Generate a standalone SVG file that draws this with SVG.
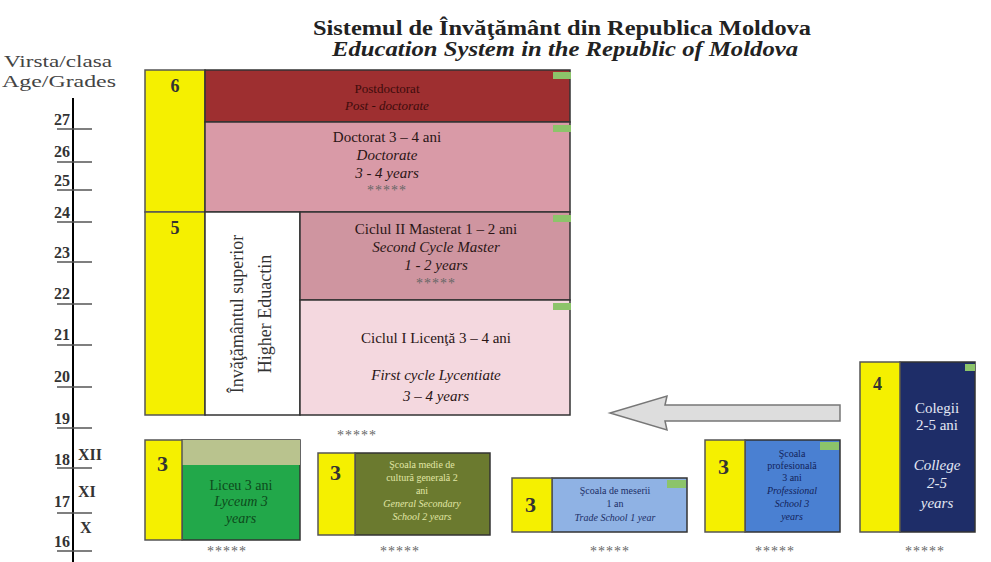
<svg xmlns="http://www.w3.org/2000/svg" width="991" height="562" viewBox="0 0 991 562">
<style>
text{font-family:"Liberation Serif","Times New Roman",serif;}
.t{font-weight:bold;font-size:20px;fill:#222;text-anchor:middle}
.ax{font-size:17px;fill:#444}
.num{font-weight:bold;font-size:16px;fill:#333;text-anchor:end}
.rom{font-weight:bold;font-size:16px;fill:#333}
.yel{fill:#f5f000;stroke:#555;stroke-width:1.5}
.box{stroke:#333;stroke-width:1.5}
.lvl{font-size:18px;fill:#333;text-anchor:middle;font-weight:bold}
.c{text-anchor:middle}
.i{font-style:italic}
.star{font-size:14px;fill:#666;text-anchor:middle;letter-spacing:1px}
.tab{fill:#8cc46a}
</style>
<rect width="991" height="562" fill="#fff"/>
<g id="title">
<text class="t" x="562" y="35" textLength="498" lengthAdjust="spacingAndGlyphs">Sistemul de Învăţământ din Republica Moldova</text>
<text class="t" x="565" y="56" font-style="italic" textLength="466" lengthAdjust="spacingAndGlyphs">Education System in the Republic of Moldova</text>
</g>
<g id="axis">
<text class="ax" x="4" y="67" textLength="108" lengthAdjust="spacingAndGlyphs">Virsta/clasa</text>
<text class="ax" x="2" y="87" textLength="114" lengthAdjust="spacingAndGlyphs">Age/Grades</text>
<line x1="73" y1="98" x2="73" y2="562" stroke="#000" stroke-width="2"/>
<g stroke="#555" stroke-width="1.5">
<line x1="57" y1="129" x2="92" y2="129"/>
<line x1="57" y1="162" x2="92" y2="162"/>
<line x1="57" y1="190" x2="92" y2="190"/>
<line x1="57" y1="222" x2="92" y2="222"/>
<line x1="57" y1="262" x2="92" y2="262"/>
<line x1="57" y1="304" x2="92" y2="304"/>
<line x1="57" y1="345" x2="92" y2="345"/>
<line x1="57" y1="387" x2="92" y2="387"/>
<line x1="57" y1="428" x2="92" y2="428"/>
<line x1="57" y1="468" x2="92" y2="468"/>
<line x1="57" y1="513" x2="92" y2="513"/>
<line x1="57" y1="551" x2="92" y2="551"/>
</g>
<text class="num" x="70" y="125">27</text>
<text class="num" x="70" y="157">26</text>
<text class="num" x="70" y="186">25</text>
<text class="num" x="70" y="218">24</text>
<text class="num" x="70" y="258">23</text>
<text class="num" x="70" y="299">22</text>
<text class="num" x="70" y="340">21</text>
<text class="num" x="70" y="382">20</text>
<text class="num" x="70" y="424">19</text>
<text class="num" x="70" y="465">18</text>
<text class="num" x="70" y="507">17</text>
<text class="num" x="70" y="547">16</text>
<text class="rom" x="78" y="460">XII</text>
<text class="rom" x="78" y="497">XI</text>
<text class="rom" x="80" y="533">X</text>
</g>
<g id="level6">
<rect class="yel" x="145" y="70" width="60" height="142"/>
<text class="lvl" x="175" y="92">6</text>
</g>
<g id="level5">
<rect class="yel" x="145" y="212" width="60" height="203"/>
<text class="lvl" x="175" y="234">5</text>
</g>
<g id="postdoc">
<rect class="box" x="205" y="70" width="365" height="52" fill="#9e2f30"/>
<rect class="tab" x="553" y="72" width="18" height="7"/>
<text class="c" x="387" y="93" font-size="13" fill="#3d0c0c">Postdoctorat</text>
<text class="c i" x="387" y="110" font-size="13" fill="#3d0c0c">Post - doctorate</text>
</g>
<g id="doctorat">
<rect class="box" x="205" y="122" width="365" height="90" fill="#d99aa7"/>
<rect class="tab" x="553" y="125" width="18" height="7"/>
<text class="c" x="387" y="142" font-size="15" fill="#2a1515">Doctorat 3 – 4 ani</text>
<text class="c i" x="387" y="160" font-size="15" fill="#2a1515">Doctorate</text>
<text class="c i" x="387" y="178" font-size="15" fill="#2a1515">3 - 4  years</text>
<text class="star" x="387" y="195">*****</text>
</g>
<g id="superior">
<rect class="box" x="205" y="212" width="95" height="203" fill="#fff"/>
<text transform="translate(243,314) rotate(-90)" class="c" font-size="18" fill="#333">Învăţământul superior</text>
<text transform="translate(271,314) rotate(-90)" class="c" font-size="18" fill="#333">Higher Eduactin</text>
</g>
<g id="masterat">
<rect class="box" x="300" y="212" width="270" height="88" fill="#cf95a0"/>
<rect class="tab" x="553" y="215" width="18" height="7"/>
<text class="c" x="436" y="234" font-size="15" fill="#2a1515">Ciclul II Masterat 1 – 2 ani</text>
<text class="c i" x="436" y="252" font-size="15" fill="#2a1515">Second Cycle Master</text>
<text class="c i" x="436" y="270" font-size="15" fill="#2a1515">1 - 2  years</text>
<text class="star" x="436" y="288">*****</text>
</g>
<g id="licenta">
<rect class="box" x="300" y="300" width="270" height="115" fill="#f4d8df"/>
<rect class="tab" x="553" y="303" width="18" height="7"/>
<text class="c" x="436" y="343" font-size="15" fill="#2a1515">Ciclul I Licenţă 3 – 4 ani</text>
<text class="c i" x="436" y="380" font-size="15" fill="#2a1515">First cycle Lycentiate</text>
<text class="c i" x="436" y="401" font-size="15" fill="#2a1515">3 – 4  years</text>
</g>
<text class="star" x="357" y="440">*****</text>
<g id="connectors">
<path d="M840,405 L665,405 L667,396 L610,413 L667,430 L665,421 L840,421 Z" fill="#ddd" stroke="#777" stroke-width="1.5"/>
</g>
<g id="liceu">
<rect class="box" x="182" y="440" width="118" height="100" fill="#22a84a"/>
<rect x="182" y="440" width="118" height="25" fill="#b9c38e"/>
<rect class="yel" x="145" y="440" width="37" height="100"/>
<text x="157" y="471" font-size="22" fill="#333" font-weight="bold">3</text>
<text class="c" x="241" y="490" font-size="14" fill="#0d4a1c">Liceu 3 ani</text>
<text class="c i" x="241" y="506" font-size="14" fill="#0d4a1c">Lyceum 3</text>
<text class="c i" x="241" y="523" font-size="14" fill="#0d4a1c">years</text>
<text class="star" x="227" y="556">*****</text>
</g>
<g id="generala">
<rect class="box" x="355" y="453" width="135" height="82" fill="#6b7a2f"/>
<rect class="yel" x="318" y="453" width="37" height="82"/>
<text x="330" y="480" font-size="22" fill="#333" font-weight="bold">3</text>
<g font-size="10" fill="#e0e6a6">
<text class="c" x="422" y="468">Şcoala medie de</text>
<text class="c" x="422" y="481">cultură generală 2</text>
<text class="c" x="422" y="494">ani</text>
<text class="c i" x="422" y="507">General Secondary</text>
<text class="c i" x="422" y="520">School 2 years</text>
</g>
<text class="star" x="400" y="556">*****</text>
</g>
<g id="meserii">
<rect class="box" x="552" y="478" width="135" height="54" fill="#8fb2e4"/>
<rect class="tab" x="667" y="480" width="19" height="8"/>
<rect class="yel" x="512" y="478" width="40" height="54"/>
<text x="525" y="512" font-size="22" fill="#333" font-weight="bold">3</text>
<g font-size="10" fill="#1c2e66">
<text class="c" x="615" y="494">Şcoala de meserii</text>
<text class="c" x="615" y="507">1 an</text>
<text class="c i" x="615" y="521">Trade School 1 year</text>
</g>
<text class="star" x="610" y="556">*****</text>
</g>
<g id="profesionala">
<rect class="box" x="745" y="440" width="95" height="92" fill="#4a80d2"/>
<rect class="tab" x="820" y="442" width="19" height="8"/>
<rect class="yel" x="705" y="440" width="40" height="92"/>
<text x="718" y="474" font-size="22" fill="#333" font-weight="bold">3</text>
<g font-size="10" fill="#13235a">
<text class="c" x="792" y="457">Şcoala</text>
<text class="c" x="792" y="469">profesională</text>
<text class="c" x="792" y="481">3 ani</text>
<text class="c i" x="792" y="494">Professional</text>
<text class="c i" x="792" y="507">School 3</text>
<text class="c i" x="792" y="520">years</text>
</g>
<text class="star" x="775" y="556">*****</text>
</g>
<g id="colegii">
<rect class="box" x="900" y="362" width="75" height="170" fill="#1e2d68"/>
<rect class="tab" x="965" y="364" width="10" height="7"/>
<rect class="yel" x="860" y="362" width="40" height="170"/>
<text x="873" y="390" font-size="18" fill="#333" font-weight="bold">4</text>
<g font-size="15" fill="#e4e8f4">
<text class="c" x="937" y="413">Colegii</text>
<text class="c" x="937" y="430">2-5 ani</text>
<text class="c i" x="937" y="470">College</text>
<text class="c i" x="937" y="488">2-5</text>
<text class="c i" x="937" y="508">years</text>
</g>
<text class="star" x="925" y="556">*****</text>
</g>
</svg>
